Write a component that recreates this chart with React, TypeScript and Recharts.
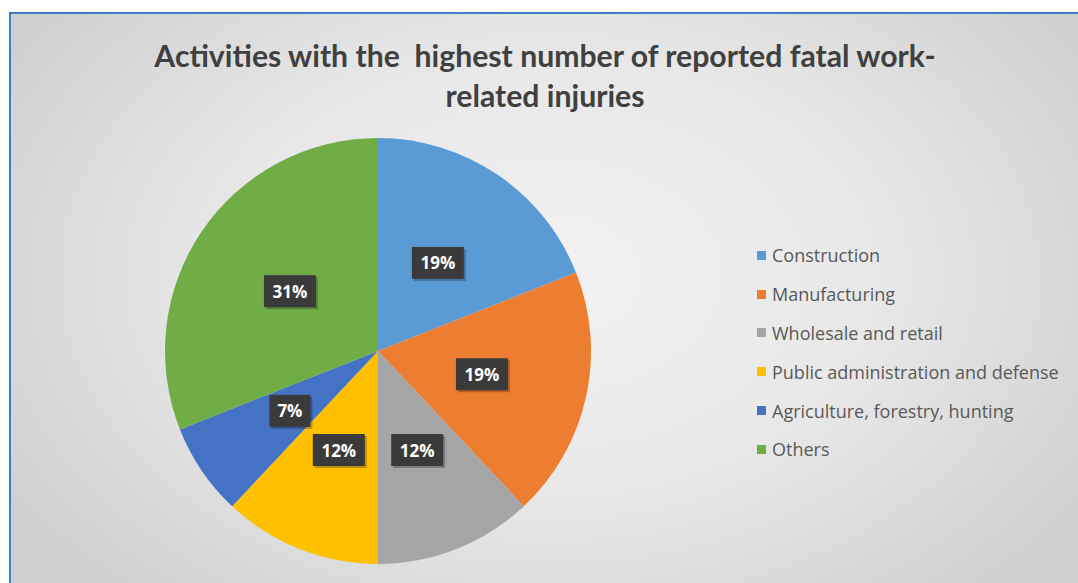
import React from "react";
import { PieChart, Pie, Cell, Legend } from "recharts";

const categories = [
  "Construction",
  "Manufacturing",
  "Wholesale and retail",
  "Public administration and defense",
  "Agriculture, forestry, hunting",
  "Others",
];
const shares = [19, 19, 12, 12, 7, 31];
const colors = ["#5B9BD5", "#ED7D31", "#A5A5A5", "#FFC000", "#4472C4", "#70AD47"];
const titleLines = [
  "Activities with the  highest number of reported fatal work-",
  "related injuries",
];

const data = categories.map((name, i) => ({ name, value: shares[i] }));

const RADIAN = Math.PI / 180;

const renderLabel = (props: any) => {
  const { cx, cy, midAngle, outerRadius, value } = props;
  const r = outerRadius * 0.5;
  const x = cx + r * Math.cos(-midAngle * RADIAN);
  const y = cy + r * Math.sin(-midAngle * RADIAN);
  const txt = `${value}%`;
  const w = txt.length === 2 ? 41 : 52;
  const h = 32;
  return (
    <g>
      <rect x={x - w / 2 + 2} y={y - h / 2 + 2} width={w} height={h} fill="rgba(0,0,0,0.25)" />
      <rect x={x - w / 2} y={y - h / 2} width={w} height={h} fill="#3a3a3a" />
      <text
        x={x}
        y={y}
        fill="#ffffff"
        textAnchor="middle"
        dominantBaseline="central"
        style={{ fontFamily: "'Open Sans', sans-serif", fontWeight: 700, fontSize: 17 }}
      >
        {txt}
      </text>
    </g>
  );
};

const renderLegend = (props: any) => {
  const payload = [...(props.payload || [])].sort(
    (a: any, b: any) => categories.indexOf(a.value) - categories.indexOf(b.value)
  );
  return (
    <div style={{ fontFamily: "'Open Sans', sans-serif", fontSize: 18, color: "#595959" }}>
      {payload.map((entry: any, i: number) => (
        <div key={i} style={{ display: "flex", alignItems: "center", height: 38.8 }}>
          <span
            style={{
              display: "inline-block",
              width: 9,
              height: 9,
              background: entry.color,
              marginRight: 6,
            }}
          />
          <span>{entry.value}</span>
        </div>
      ))}
    </div>
  );
};

export default function App() {
  return (
    <div
      style={{
        position: "absolute",
        left: 0,
        top: 0,
        width: 1078,
        height: 583,
        background: "#ffffff",
        overflow: "hidden",
      }}
    >
      <div
        style={{
          position: "absolute",
          left: 9,
          top: 12,
          width: 1078,
          height: 583,
          borderTop: "2px solid #3d7fc4",
          borderLeft: "2px solid #3d7fc4",
          background:
            "radial-gradient(ellipse 60% 75% at 50% 45%, #f2f2f2 0%, #e8e8e8 50%, #cfcfcf 100%)",
        }}
      />
      <div
        style={{
          position: "absolute",
          left: 0,
          top: 35,
          width: 1090,
          textAlign: "center",
          fontFamily: "Lato, 'Open Sans', sans-serif",
          fontWeight: 700,
          fontSize: 30.2,
          lineHeight: "40px",
          color: "#404040",
          whiteSpace: "pre",
        }}
      >
        {titleLines.map((l, i) => (
          <div key={i}>{l}</div>
        ))}
      </div>
      <div style={{ position: "absolute", left: 0, top: 0 }}>
        <PieChart width={1078} height={583} margin={{ top: 0, right: 0, bottom: 0, left: 0 }}>
          <Pie
            data={data}
            dataKey="value"
            nameKey="name"
            cx={378}
            cy={351}
            outerRadius={213}
            startAngle={90}
            endAngle={-270}
            stroke="none"
            label={renderLabel}
            labelLine={false}
            isAnimationActive={false}
          >
            {data.map((d, i) => (
              <Cell key={d.name} fill={colors[i]} />
            ))}
          </Pie>
          <Legend
            layout="vertical"
            itemSorter={null as any}
            content={renderLegend}
            wrapperStyle={{ position: "absolute", left: 757, top: 236, width: 320 }}
          />
        </PieChart>
      </div>
    </div>
  );
}
